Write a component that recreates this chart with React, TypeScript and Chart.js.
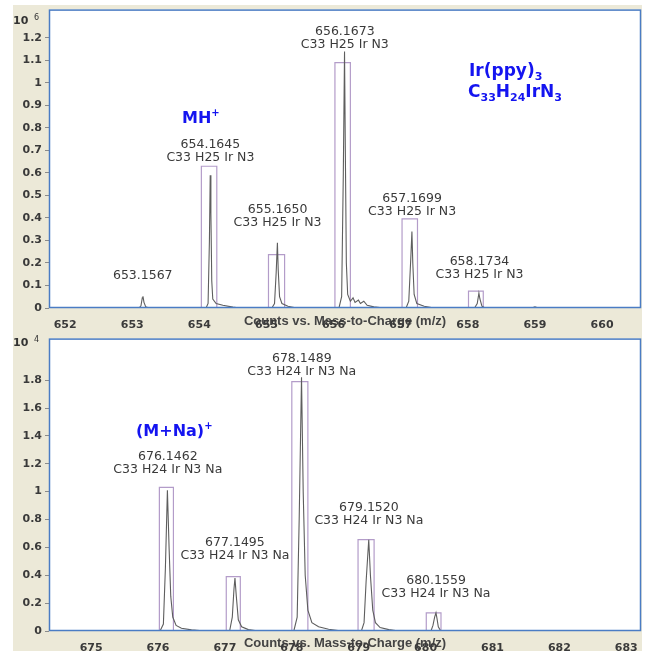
import React, { useEffect, useRef } from "react";
import { Chart, registerables } from "chart.js";
Chart.register(...registerables);

// ---------- Top panel (counts x10^6) ----------
const topMz = [651.76, 653.10, 653.13, 653.15, 653.16, 653.175, 653.20, 653.25,
  654.10, 654.13, 654.15, 654.162, 654.172, 654.185, 654.20, 654.25, 654.35, 654.50, 654.60,
  655.08, 655.12, 655.145, 655.163, 655.175, 655.195, 655.23, 655.32, 655.45,
  656.08, 656.12, 656.145, 656.163, 656.175, 656.19, 656.21, 656.25, 656.29, 656.32, 656.37, 656.40, 656.45, 656.50, 656.60, 656.75,
  657.08, 657.12, 657.15, 657.167, 657.18, 657.20, 657.24, 657.35, 657.50,
  658.10, 658.14, 658.165, 658.18, 658.21, 658.26,
  658.95, 659.00, 659.05, 660.58];
const topCounts = [0, 0, 0.01, 0.045, 0.052, 0.025, 0.006, 0,
  0, 0.02, 0.30, 0.59, 0.42, 0.12, 0.04, 0.02, 0.012, 0.004, 0,
  0, 0.02, 0.16, 0.29, 0.17, 0.05, 0.02, 0.008, 0,
  0, 0.05, 0.60, 1.14, 0.70, 0.20, 0.06, 0.03, 0.045, 0.025, 0.035, 0.02, 0.03, 0.012, 0.005, 0,
  0, 0.03, 0.22, 0.34, 0.20, 0.06, 0.02, 0.008, 0,
  0, 0.02, 0.066, 0.04, 0.008, 0,
  0, 0.005, 0, 0];
const topTicksX = [652, 653, 654, 655, 656, 657, 658, 659, 660];
const topTicksY = [0, 0.1, 0.2, 0.3, 0.4, 0.5, 0.6, 0.7, 0.8, 0.9, 1, 1.1, 1.2];
const topPeakMz = [653.1567, 654.1645, 655.1650, 656.1673, 657.1699, 658.1734];
const topPeakText = ["653.1567", "654.1645", "655.1650", "656.1673", "657.1699", "658.1734"];
const topFormula = ["", "C33 H25 Ir N3", "C33 H25 Ir N3", "C33 H25 Ir N3", "C33 H25 Ir N3", "C33 H25 Ir N3"];
const topPeakHeight = [0.052, 0.59, 0.29, 1.14, 0.34, 0.066];
const topBoxLo = [null, 654.03, 655.03, 656.02, 657.02, 658.01];
const topBoxHi = [null, 654.26, 655.27, 656.25, 657.25, 658.23];
const topBoxTop = [null, 0.63, 0.237, 1.09, 0.396, 0.075];

// ---------- Bottom panel (counts x10^4) ----------
const botMz = [674.37, 676.03, 676.08, 676.11, 676.14, 676.165, 676.19, 676.22, 676.27, 676.35, 676.50, 676.70,
  677.07, 677.11, 677.135, 677.15, 677.17, 677.20, 677.25, 677.35, 677.50,
  678.03, 678.08, 678.11, 678.145, 678.17, 678.20, 678.24, 678.30, 678.40, 678.55, 678.75,
  679.04, 679.08, 679.11, 679.15, 679.175, 679.21, 679.25, 679.32, 679.45, 679.60,
  680.08, 680.11, 680.135, 680.155, 680.17, 680.19, 680.22, 680.26, 683.22];
const botCounts = [0, 0, 0.05, 0.45, 1.01, 0.60, 0.25, 0.10, 0.04, 0.02, 0.008, 0,
  0, 0.10, 0.30, 0.38, 0.25, 0.08, 0.03, 0.01, 0,
  0, 0.10, 0.80, 1.82, 1.00, 0.40, 0.15, 0.06, 0.03, 0.012, 0,
  0, 0.06, 0.35, 0.655, 0.40, 0.15, 0.06, 0.025, 0.01, 0,
  0, 0.04, 0.10, 0.13, 0.09, 0.03, 0.005, 0, 0];
const botTicksX = [675, 676, 677, 678, 679, 680, 681, 682, 683];
const botTicksY = [0, 0.2, 0.4, 0.6, 0.8, 1, 1.2, 1.4, 1.6, 1.8];
const botPeakMz = [676.1462, 677.1495, 678.1489, 679.1520, 680.1559];
const botPeakText = ["676.1462", "677.1495", "678.1489", "679.1520", "680.1559"];
const botFormula = ["C33 H24 Ir N3 Na", "C33 H24 Ir N3 Na", "C33 H24 Ir N3 Na", "C33 H24 Ir N3 Na", "C33 H24 Ir N3 Na"];
const botPeakHeight = [1.01, 0.38, 1.82, 0.655, 0.13];
const botBoxLo = [676.02, 677.02, 678.00, 678.99, 680.01];
const botBoxHi = [676.23, 677.23, 678.24, 679.23, 680.23];
const botBoxTop = [1.03, 0.39, 1.79, 0.655, 0.13];

const AXIS_TITLE = "Counts vs. Mass-to-Charge (m/z)";

// layout (pixels) for the peak labels: distance of the lowest label line above its box / peak
const topLift = [21, 8, 32, 18, 7, 16];
const botLift = [18, 21, 10, 19, 19];

type Part = [string, "n" | "sub" | "sup"];
interface Note { x: number; y: number; size: number; parts: Part[] }

const topNotes: Note[] = [
  { x: 182, y: 123, size: 16, parts: [["MH", "n"], ["+", "sup"]] },
  { x: 469, y: 76, size: 17, parts: [["Ir(ppy)", "n"], ["3", "sub"]] },
  { x: 468, y: 97, size: 17, parts: [["C", "n"], ["33", "sub"], ["H", "n"], ["24", "sub"], ["IrN", "n"], ["3", "sub"]] },
];
const botNotes: Note[] = [
  { x: 136, y: 107, size: 16, parts: [["(M+Na)", "n"], ["+", "sup"]] },
];

const BEIGE = "#ECE9D8";
const BLUE_BORDER = "#4a7cc4";
const NOTE_BLUE = "#1414f0";
const TEXT = "#3a3a3a";

interface PanelCfg {
  mz: number[]; counts: number[];
  ticksX: number[]; ticksY: number[];
  xMin: number; xMax: number; yMax: number;
  padTop: number; xAxisH: number; beigeTop: number;
  peakMz: number[]; peakText: string[]; formula: string[]; peakHeight: number[];
  boxLo: (number | null)[]; boxHi: (number | null)[]; boxTop: (number | null)[];
  lift: number[]; notes: Note[]; exponent: string; expY: number;
}

function drawRich(ctx: CanvasRenderingContext2D, note: Note) {
  let x = note.x;
  for (const [t, mode] of note.parts) {
    const sz = mode === "n" ? note.size : Math.round(note.size * 0.62);
    ctx.font = `bold ${sz}px "DejaVu Sans"`;
    let y = note.y;
    if (mode === "sub") y += note.size * 0.22;
    if (mode === "sup") y -= note.size * 0.45;
    ctx.fillText(t, x, y);
    x += ctx.measureText(t).width;
  }
}

function makeChart(canvas: HTMLCanvasElement, c: PanelCfg) {
  const datasets: any[] = [
    {
      data: c.mz.map((x, i) => ({ x, y: c.counts[i] })),
      borderColor: "#5e5e5e",
      borderWidth: 1.1,
      pointRadius: 0,
      fill: false,
      tension: 0,
      order: 1,
    },
  ];
  c.boxLo.forEach((lo, i) => {
    const hi = c.boxHi[i];
    const top = c.boxTop[i];
    if (lo == null || hi == null || top == null) return;
    datasets.push({
      data: [{ x: lo, y: 0 }, { x: lo, y: top }, { x: hi, y: top }, { x: hi, y: 0 }],
      borderColor: "#b39cc9",
      borderWidth: 1.2,
      pointRadius: 0,
      fill: false,
      tension: 0,
      order: 2,
    });
  });

  const bgPlugin = {
    id: "bg",
    beforeDraw(chart: any) {
      const { ctx, chartArea: a, width, height } = chart;
      ctx.save();
      ctx.fillStyle = "#ffffff";
      ctx.fillRect(0, 0, width, height);
      ctx.fillStyle = BEIGE;
      ctx.fillRect(13, c.beigeTop, a.right + 1 - 13, height - c.beigeTop);
      ctx.fillStyle = "#ffffff";
      ctx.fillRect(a.left, a.top, a.right - a.left, a.bottom - a.top);
      ctx.restore();
    },
    afterDraw(chart: any) {
      const { ctx, chartArea: a, scales } = chart;
      const xs = scales.x, ys = scales.y;
      ctx.save();
      // plot frame
      ctx.strokeStyle = BLUE_BORDER;
      ctx.lineWidth = 1.5;
      ctx.strokeRect(a.left + 0.5, a.top + 0.5, a.right - a.left - 1, a.bottom - a.top - 1);
      // peak labels
      ctx.fillStyle = TEXT;
      ctx.textAlign = "center";
      ctx.textBaseline = "middle";
      ctx.font = '12.5px "DejaVu Sans"';
      c.peakMz.forEach((m, i) => {
        const px = xs.getPixelForValue(m);
        const base = c.boxTop[i] != null ? (c.boxTop[i] as number) : c.peakHeight[i];
        const by = ys.getPixelForValue(base) - c.lift[i];
        if (c.formula[i]) {
          ctx.fillText(c.formula[i], px, by);
          ctx.fillText(c.peakText[i], px, by - 13);
        } else {
          ctx.fillText(c.peakText[i], px, by);
        }
      });
      // exponent label
      ctx.textAlign = "left";
      ctx.textBaseline = "middle";
      ctx.fillStyle = "#333";
      ctx.font = 'bold 11px "DejaVu Sans"';
      ctx.fillText("10", 13, c.expY);
      ctx.font = '8px "DejaVu Sans"';
      ctx.fillText(c.exponent, 34, c.expY - 3);
      // blue notes
      ctx.fillStyle = NOTE_BLUE;
      ctx.textBaseline = "alphabetic";
      c.notes.forEach((n) => drawRich(ctx, n));
      ctx.restore();
    },
  };

  return new Chart(canvas, {
    type: "line",
    data: { datasets },
    options: {
      animation: false,
      responsive: false,
      maintainAspectRatio: false,
      events: [],
      layout: { padding: { left: 13, top: c.padTop, right: 7, bottom: 0 } },
      plugins: { legend: { display: false }, tooltip: { enabled: false } },
      scales: {
        x: {
          type: "linear",
          min: c.xMin,
          max: c.xMax,
          afterBuildTicks: (s: any) => { s.ticks = c.ticksX.map((v) => ({ value: v })); },
          afterFit: (s: any) => { s.height = c.xAxisH; },
          grid: { display: false },
          border: { display: false },
          ticks: {
            autoSkip: false, maxRotation: 0, padding: 3,
            color: "#3a3a3a",
            font: { family: "DejaVu Sans", size: 11, weight: "bold" },
            callback: (v: any) => String(v),
          },
          title: {
            display: true, text: AXIS_TITLE, padding: 0,
            color: "#444",
            font: { family: "Liberation Sans", size: 13, weight: "bold" },
          },
        },
        y: {
          type: "linear",
          min: 0,
          max: c.yMax,
          afterBuildTicks: (s: any) => { s.ticks = c.ticksY.map((v) => ({ value: v })); },
          afterFit: (s: any) => { s.width = 36; },
          grid: { drawOnChartArea: false, drawTicks: true, tickLength: 4, color: "#8a8a8a" },
          border: { display: false },
          ticks: {
            padding: 3,
            color: "#3a3a3a",
            font: { family: "DejaVu Sans", size: 11, weight: "bold" },
            callback: (v: any) => String(Math.round(Number(v) * 10) / 10),
          },
        },
      },
    } as any,
    plugins: [bgPlugin],
  });
}

function Panel({ cfg, top, height }: { cfg: PanelCfg; top: number; height: number }) {
  const ref = useRef<HTMLCanvasElement>(null);
  useEffect(() => {
    if (!ref.current) return;
    const ch = makeChart(ref.current, cfg);
    return () => ch.destroy();
  }, []);
  return (
    <canvas
      ref={ref}
      width={648}
      height={height}
      style={{ position: "absolute", left: 0, top, width: 648, height, display: "block" }}
    />
  );
}

const topCfg: PanelCfg = {
  mz: topMz, counts: topCounts, ticksX: topTicksX, ticksY: topTicksY,
  xMin: 651.76, xMax: 660.58, yMax: 1.326,
  padTop: 6, xAxisH: 21, beigeTop: 5,
  peakMz: topPeakMz, peakText: topPeakText, formula: topFormula, peakHeight: topPeakHeight,
  boxLo: topBoxLo, boxHi: topBoxHi, boxTop: topBoxTop,
  lift: topLift, notes: topNotes, exponent: "6", expY: 21,
};

const botCfg: PanelCfg = {
  mz: botMz, counts: botCounts, ticksX: botTicksX, ticksY: botTicksY,
  xMin: 674.37, xMax: 683.22, yMax: 2.098,
  padTop: 1, xAxisH: 20, beigeTop: 0,
  peakMz: botPeakMz, peakText: botPeakText, formula: botFormula, peakHeight: botPeakHeight,
  boxLo: botBoxLo, boxHi: botBoxHi, boxTop: botBoxTop,
  lift: botLift, notes: botNotes, exponent: "4", expY: 14,
};

export default function App() {
  return (
    <div style={{ position: "absolute", left: 0, top: 0, width: 648, height: 651, background: "#fff", overflow: "hidden" }}>
      <Panel cfg={topCfg} top={0} height={329} />
      <Panel cfg={botCfg} top={329} height={322} />
    </div>
  );
}
